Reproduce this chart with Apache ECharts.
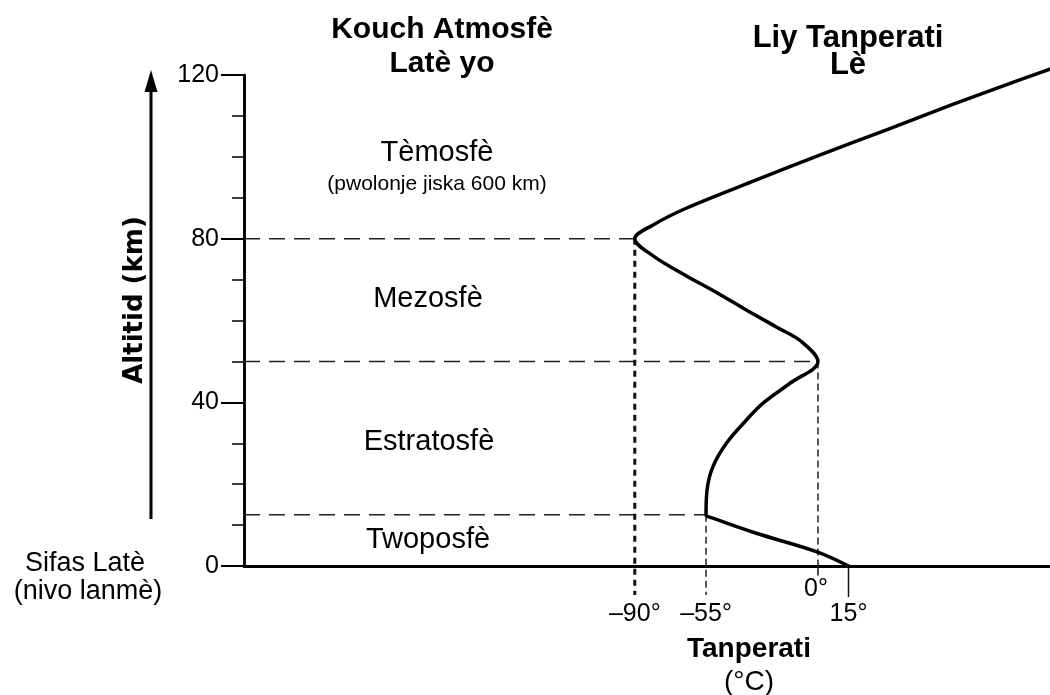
<!DOCTYPE html>
<html>
<head>
<meta charset="utf-8">
<script src="https://cdn.jsdelivr.net/npm/echarts@6/dist/echarts.min.js"></script>
<style>
  html, body { margin: 0; padding: 0; background: #fff; }
  #chart { width: 1050px; height: 695px; }
</style>
</head>
<body>
<div id="chart"></div>
<script>
// Temperature profile of the atmosphere (°C against altitude in km)
const tempC  = [15, -0.8, -30.3, -51.6, -55, -54.5, -51.6, -45.0, -35.5, -27.0, -13.9, 0, -8, -20, -35, -49, -65, -81, -90, -81.2, -64.5, -32.1, 0.8, 33.7, 66.2, 99.1, 116];
const altKm  = [0, 3.5, 8.0, 11.7, 12.5, 18.6, 24.3, 30.0, 35.5, 39.8, 44.6, 50, 54.8, 58.3, 62.5, 66.6, 71.0, 75.8, 80, 83.3, 87.5, 94.0, 100.4, 106.6, 112.8, 118.8, 121.8];

// Layer boundaries: tropopause, stratopause, mesopause
const boundaryKm   = [12.5, 50, 80];
const boundaryTemp = [-55, 0, -90];

// Marked temperatures on the horizontal axis
const markTemps  = [-90, -55, 0, 15];
const markLabels = ['–90°', '–55°', '0°', '15°'];

// Layer names
const layerNames = ['Tèmosfè', 'Mezosfè', 'Estratosfè', 'Twoposfè'];
const layerNote  = '(pwolonje jiska 600 km)';

const X_MIN = -282, X_MAX = 114;
const FONT = "'Liberation Sans', Arial, Helvetica, sans-serif";

const chart = echarts.init(document.getElementById('chart'), null, { renderer: 'canvas' });

const lineBase = { type: 'line', symbol: 'none', silent: true, clip: false, animation: false };
const series = [];

// dashed horizontal boundaries from the altitude axis to the curve
boundaryKm.forEach((km, i) => {
  series.push(Object.assign({}, lineBase, {
    data: [[X_MIN, km], [boundaryTemp[i], km]],
    lineStyle: { color: '#222', width: 1.5, type: [16, 9] }, z: 2
  }));
});

// drop lines from the turning points down to the temperature labels
const DROP_KM = -7.1;
series.push(Object.assign({}, lineBase, {
  data: [[boundaryTemp[2], boundaryKm[2]], [boundaryTemp[2], DROP_KM]],
  lineStyle: { color: '#111', width: 3, type: [6, 5] }, z: 2
}));
series.push(Object.assign({}, lineBase, {
  data: [[boundaryTemp[0], boundaryKm[0]], [boundaryTemp[0], DROP_KM]],
  lineStyle: { color: '#222', width: 1.5, type: [7, 4] }, z: 2
}));
series.push(Object.assign({}, lineBase, {
  data: [[boundaryTemp[1], boundaryKm[1]], [boundaryTemp[1], 0]],
  lineStyle: { color: '#222', width: 1.5, type: [7, 4] }, z: 2
}));
series.push(Object.assign({}, lineBase, {
  data: [[markTemps[2], 0], [markTemps[2], -2.3]],
  lineStyle: { color: '#111', width: 1.5, type: 'solid' }, z: 2
}));
series.push(Object.assign({}, lineBase, {
  data: [[markTemps[3], 0], [markTemps[3], -7.6]],
  lineStyle: { color: '#111', width: 1.5, type: 'solid' }, z: 2
}));

// the temperature curve itself
series.push(Object.assign({}, lineBase, {
  data: tempC.map((t, i) => [t, altKm[i]]),
  smooth: 0.35,
  lineStyle: { color: '#000', width: 3.5, cap: 'round', join: 'round' }, z: 5
}));

chart.setOption({
  animation: false,
  backgroundColor: '#fff',
  grid: { left: 244, right: 0, top: 75, bottom: 129, containLabel: false },
  xAxis: {
    type: 'value', min: X_MIN, max: X_MAX,
    axisLine: { show: true, onZero: false, lineStyle: { color: '#000', width: 3 } },
    axisTick: { show: false }, axisLabel: { show: false }, splitLine: { show: false }
  },
  yAxis: [
    {
      type: 'value', min: 0, max: 120, interval: 10, position: 'left',
      axisLine: { show: true, onZero: false, lineStyle: { color: '#000', width: 2.5 } },
      axisTick: { show: true, length: 12, lineStyle: { color: '#000', width: 1.5 } },
      axisLabel: { show: false }, splitLine: { show: false }
    },
    {
      type: 'value', min: 0, max: 120, interval: 40, position: 'left', offset: 0,
      axisLine: { show: true, onZero: false, lineStyle: { color: '#000', width: 2.5 } },
      axisTick: { show: true, length: 23, lineStyle: { color: '#000', width: 2 } },
      axisLabel: { show: true, margin: 25, color: '#000', fontSize: 25, fontFamily: FONT },
      splitLine: { show: false }
    }
  ],
  series: series
});

function text(str, x, y, size, weight, family, extra) {
  return Object.assign({
    type: 'text', x: x, y: y, silent: true, z: 10,
    style: {
      text: str, fill: '#000',
      font: weight + ' ' + size + 'px ' + (family || FONT),
      textAlign: 'center', textVerticalAlign: 'middle',
      align: 'center', verticalAlign: 'middle'
    }
  }, extra || {});
}

const px = (t, km) => chart.convertToPixel({ gridIndex: 0 }, [t, km]);

const graphics = [
  // titles above the chart
  text('Kouch Atmosfè', 442, 30, 30, 'bold'),
  text('Latè yo', 442, 64, 30, 'bold'),
  text('Liy Tanperati', 848, 38, 31, 'bold'),
  text('Lè', 848, 65, 31, 'bold'),
  // layer names
  text(layerNames[0], 437, 153, 29, 'normal'),
  text(layerNote, 437, 184, 21, 'normal'),
  text(layerNames[1], 428, 299, 29, 'normal'),
  text(layerNames[2], 429, 442, 29, 'normal'),
  text(layerNames[3], 428, 540, 29, 'normal'),
  // sea level
  text('Sifas Latè', 85, 564, 27, 'normal'),
  text('(nivo lanmè)', 88, 592, 27, 'normal'),
  // axis titles
  text('Tanperati', 749, 649, 28, 'bold'),
  text('(°C)', 749, 682, 28, 'normal'),
  text('Altitid (km)', 135, 300, 26, 'bold', "'DejaVu Sans', sans-serif", { rotation: Math.PI / 2 }),
  // altitude arrow
  { type: 'line', silent: true, shape: { x1: 151, y1: 519, x2: 151, y2: 88 }, style: { stroke: '#000', lineWidth: 3 } },
  { type: 'polygon', silent: true, shape: { points: [[151, 70], [144.5, 92], [157.5, 92]] }, style: { fill: '#000' } }
];

// temperature labels under the axis
markTemps.forEach((t, i) => {
  const p = px(t, 0);
  const y = (t === 0) ? 589 : 614;
  graphics.push(text(markLabels[i], p[0] + (t === 0 ? -2 : 0), y, 25, 'normal'));
});

chart.setOption({ graphic: graphics });
</script>
</body>
</html>
